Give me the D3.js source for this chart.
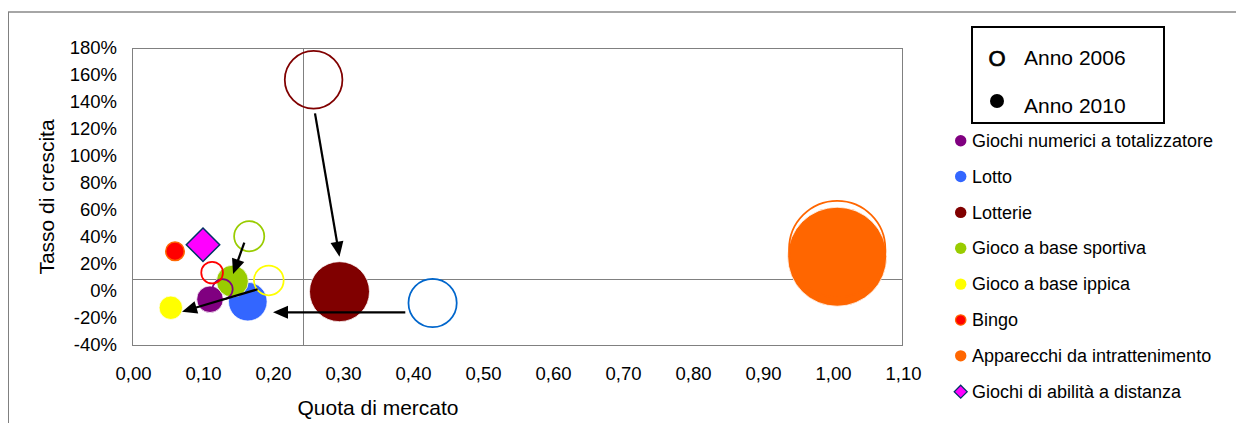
<!DOCTYPE html>
<html lang="it">
<head>
<meta charset="utf-8">
<title>Quota di mercato e tasso di crescita dei comparti di gioco</title>
<script src="https://cdn.jsdelivr.net/npm/d3@7/dist/d3.min.js"></script>
<style>
  html, body { margin: 0; padding: 0; background: #ffffff; }
  svg { display: block; }
  text { font-family: "Liberation Sans", Arial, Helvetica, sans-serif; fill: #000; }
</style>
</head>
<body>
<svg id="chart" width="1236" height="423"></svg>
<script>
// Comparti di gioco
const categories = [
  "Giochi numerici a totalizzatore",
  "Lotto",
  "Lotterie",
  "Gioco a base sportiva",
  "Gioco a base ippica",
  "Bingo",
  "Apparecchi da intrattenimento",
  "Giochi di abilità a distanza"
];

// Anno 2006: quota di mercato relativa, tasso di crescita, dimensione bolla
const share2006  = [0.128, 0.428, 0.258, 0.166, 0.194, 0.113, 1.006, null];
const growth2006 = [0.013, -0.089, 1.565, 0.406, 0.078, 0.136, 0.311, null];
const size2006   = [4.9, 25.5, 36.0, 10.4, 10.1, 5.6, 98.0, null];

// Anno 2010
const share2010  = [0.110, 0.164, 0.295, 0.142, 0.054, 0.060, 1.006, 0.100];
const growth2010 = [-0.061, -0.079, -0.005, 0.073, -0.124, 0.294, 0.254, 0.343];
const size2010   = [7.2, 15.2, 36.7, 10.4, 5.6, 4.1, 100.0, 11.4];

// Valori medi (linee di riferimento)
const avgShare = 0.2424;
const avgGrowth = 0.0867;

// Frecce di spostamento 2006 -> 2010
const arrowStartShare  = [0.260, 0.389, 0.178, 0.159];
const arrowStartGrowth = [1.316, -0.158, 0.013, 0.358];
const arrowEndShare    = [0.295, 0.200, 0.070, 0.143];
const arrowEndGrowth   = [0.254, -0.158, -0.153, 0.126];

// Etichette degli assi
const xTicks = [0, 0.1, 0.2, 0.3, 0.4, 0.5, 0.6, 0.7, 0.8, 0.9, 1.0, 1.1];
const yTicks = [-0.4, -0.2, 0, 0.2, 0.4, 0.6, 0.8, 1.0, 1.2, 1.4, 1.6, 1.8];

// Stili per comparto
const fillColors   = ["#800080", "#3366FF", "#800000", "#99CC00", "#FFFF00", "#FF0000", "#FF6600", "#FF00FF"];
const strokeColors = ["#800080", "#0066CC", "#800000", "#99CC00", "#FFFF00", "#FF0000", "#FF6600", "#003366"];
const borderColors = [null, null, null, null, null, "#FF6600", null, "#003366"];

const svg = d3.select("#chart");
const plot = { left: 133, right: 903, top: 48, bottom: 345 };

const x = d3.scaleLinear().domain([0, 1.1]).range([plot.left, plot.right]);
const y = d3.scaleLinear().domain([-0.4, 1.8]).range([plot.bottom, plot.top]);
const r = d3.scaleSqrt().domain([0, 100]).range([0, 49.5]);

const it = d3.formatLocale({ decimal: ",", thousands: ".", grouping: [3], currency: ["", "€"] });
const fmtX = it.format(".2f");
const fmtY = v => Math.round(v * 100) + "%";

// Cornice esterna
svg.append("line").attr("x1", 8).attr("x2", 1236).attr("y1", 12).attr("y2", 12)
  .attr("stroke", "#a6a6a6").attr("stroke-width", 2);
svg.append("line").attr("x1", 8.5).attr("x2", 8.5).attr("y1", 12).attr("y2", 423)
  .attr("stroke", "#808080").attr("stroke-width", 1);

// Area del grafico
svg.append("rect")
  .attr("x", plot.left - 0.5).attr("y", plot.top + 0.5)
  .attr("width", plot.right - plot.left).attr("height", plot.bottom - plot.top)
  .attr("fill", "#fff").attr("stroke", "#808080").attr("stroke-width", 1);

// Assi
const xAxis = svg.append("g")
  .attr("transform", `translate(0,${plot.bottom})`)
  .call(d3.axisBottom(x).tickValues(xTicks).tickFormat(fmtX).tickSize(0).tickPadding(22));
xAxis.select(".domain").remove();
xAxis.selectAll("text").style("font-size", "18.5px").attr("font-family", null);

const yAxis = svg.append("g")
  .attr("transform", `translate(${plot.left},0)`)
  .call(d3.axisLeft(y).tickValues(yTicks).tickFormat(fmtY).tickSize(0).tickPadding(16));
yAxis.select(".domain").remove();
yAxis.selectAll("text").style("font-size", "18.5px").attr("font-family", null);

// Titoli degli assi
svg.append("text")
  .attr("x", 378).attr("y", 415)
  .attr("text-anchor", "middle")
  .style("font-size", "21px")
  .text("Quota di mercato");
svg.append("text")
  .attr("transform", "translate(54,197) rotate(-90)")
  .attr("text-anchor", "middle")
  .style("font-size", "21px")
  .text("Tasso di crescita");

// Linee dei valori medi
svg.append("line")
  .attr("x1", Math.round(x(avgShare)) + 0.5).attr("x2", Math.round(x(avgShare)) + 0.5)
  .attr("y1", plot.top).attr("y2", plot.bottom)
  .attr("stroke", "#808080").attr("stroke-width", 1);
svg.append("line")
  .attr("x1", plot.left).attr("x2", plot.right)
  .attr("y1", Math.round(y(avgGrowth)) + 0.5).attr("y2", Math.round(y(avgGrowth)) + 0.5)
  .attr("stroke", "#808080").attr("stroke-width", 1);

// Dati per le bolle
const data2010 = categories.map((c, i) => ({
  c, i, share: share2010[i], growth: growth2010[i], size: size2010[i]
}));
const data2006 = categories.map((c, i) => ({
  c, i, share: share2006[i], growth: growth2006[i], size: size2006[i]
})).filter(d => d.share !== null);

const marks = svg.append("g");

// Bolle piene: anno 2010
data2010.forEach(d => {
  if (d.i === 7) {
    const cx = x(d.share), cy = y(d.growth), h = r(d.size);
    marks.append("path")
      .attr("d", `M${cx},${cy - h}L${cx + h},${cy}L${cx},${cy + h}L${cx - h},${cy}Z`)
      .attr("fill", fillColors[d.i])
      .attr("stroke", borderColors[d.i]).attr("stroke-width", 1.5);
  } else {
    const border = borderColors[d.i];
    marks.append("circle")
      .attr("cx", x(d.share)).attr("cy", y(d.growth))
      .attr("r", r(d.size) - (border ? 0.75 : 0))
      .attr("fill", fillColors[d.i])
      .attr("stroke", border || "#ffffff")
      .attr("stroke-width", border ? 1.5 : 0.75);
  }
});

// Bolle vuote: anno 2006
const openStroke = 1.75;
marks.selectAll("circle.open")
  .data(data2006)
  .join("circle")
  .attr("class", "open")
  .attr("cx", d => x(d.share)).attr("cy", d => y(d.growth))
  .attr("r", d => r(d.size) - openStroke / 2)
  .attr("fill", "none")
  .attr("stroke", d => strokeColors[d.i])
  .attr("stroke-width", openStroke);

// Frecce
const arrows = svg.append("g");
arrowStartShare.forEach((_, k) => {
  const sx = x(arrowStartShare[k]), sy = y(arrowStartGrowth[k]);
  const tx = x(arrowEndShare[k]), ty = y(arrowEndGrowth[k]);
  const len = Math.hypot(tx - sx, ty - sy);
  const ux = (tx - sx) / len, uy = (ty - sy) / len;
  const nx = -uy, ny = ux;
  const headLen = 15, headHalf = 6.5;
  const bx = tx - headLen * ux, by = ty - headLen * uy;
  arrows.append("line")
    .attr("x1", sx).attr("y1", sy)
    .attr("x2", bx + 2 * ux).attr("y2", by + 2 * uy)
    .attr("stroke", "#000").attr("stroke-width", 2.25);
  arrows.append("path")
    .attr("d", `M${tx},${ty}L${bx + headHalf * nx},${by + headHalf * ny}L${bx - headHalf * nx},${by - headHalf * ny}Z`)
    .attr("fill", "#000");
});

// Legenda degli anni
const yearBox = svg.append("g");
yearBox.append("rect")
  .attr("x", 972).attr("y", 27).attr("width", 192).attr("height", 96)
  .attr("fill", "#fff").attr("stroke", "#000").attr("stroke-width", 2);
yearBox.append("text")
  .attr("x", 997).attr("y", 65.5).attr("text-anchor", "middle")
  .style("font-size", "22px")
  .attr("stroke", "#000").attr("stroke-width", 0.7)
  .text("O");
yearBox.append("text")
  .attr("x", 1024).attr("y", 65)
  .style("font-size", "21px").text("Anno 2006");
yearBox.append("circle")
  .attr("cx", 997).attr("cy", 101).attr("r", 7).attr("fill", "#000");
yearBox.append("text")
  .attr("x", 1024).attr("y", 113)
  .style("font-size", "21px").text("Anno 2010");

// Legenda dei comparti
const legendY = d3.scalePoint().domain(categories).range([140.7, 391.7]);
const legend = svg.append("g");
categories.forEach((c, i) => {
  const cy = legendY(c);
  if (i === 7) {
    const h = 6.5, cx = 960.7;
    legend.append("path")
      .attr("d", `M${cx},${cy - h}L${cx + h},${cy}L${cx},${cy + h}L${cx - h},${cy}Z`)
      .attr("fill", fillColors[i]).attr("stroke", borderColors[i]).attr("stroke-width", 1.25);
  } else {
    const border = borderColors[i];
    legend.append("circle")
      .attr("cx", 960.7).attr("cy", cy).attr("r", border ? 5.2 : 5.7)
      .attr("fill", fillColors[i])
      .attr("stroke", border || "none").attr("stroke-width", border ? 1.25 : 0);
  }
  legend.append("text")
    .attr("x", 972).attr("y", cy + 6.2)
    .style("font-size", "18px")
    .text(c);
});
</script>
</body>
</html>
